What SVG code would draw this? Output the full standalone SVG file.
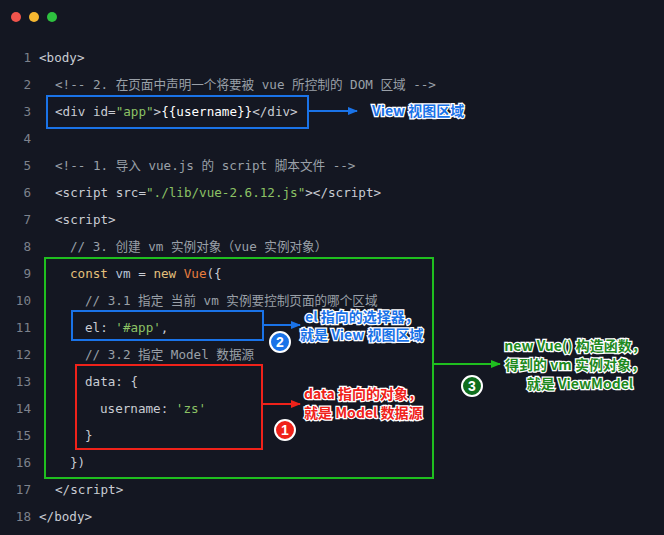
<svg xmlns="http://www.w3.org/2000/svg" width="664" height="535" viewBox="0 0 664 535">
<defs>
<style>
.c{font-family:"DejaVu Sans Mono","Noto Sans CJK SC",monospace;font-size:12.6px;fill:#c9ccd3}
.n{font-family:"DejaVu Sans Mono",monospace;font-size:12.6px;fill:#7d828c;text-anchor:end}
.cm{fill:#9aa0a8}.s{fill:#8cc265}.k{fill:#e5c07b}.v{fill:#e87d3e}.id{fill:#b7c3d8}
.lb{font-family:"Noto Sans CJK SC","Liberation Sans",sans-serif;font-size:14px;font-weight:bold;stroke:#fff;stroke-width:2.5px;paint-order:stroke}
.num{font-family:"Liberation Sans",sans-serif;font-size:14px;font-weight:bold;fill:#fff;text-anchor:middle}
</style>
<marker id="ab" viewBox="0 0 10 10" refX="9" refY="5" markerWidth="5" markerHeight="5" orient="auto"><path d="M0,1L10,5L0,9z" fill="#1a73e8"/></marker>
<marker id="ar" viewBox="0 0 10 10" refX="9" refY="5" markerWidth="5" markerHeight="5" orient="auto"><path d="M0,1L10,5L0,9z" fill="#f0221a"/></marker>
<marker id="ag" viewBox="0 0 10 10" refX="9" refY="5" markerWidth="5" markerHeight="5" orient="auto"><path d="M0,1L10,5L0,9z" fill="#1fbf1f"/></marker>
</defs>
<rect width="664" height="535" fill="#141722"/>
<circle cx="16" cy="17" r="5" fill="#f0544c"/><circle cx="34" cy="17" r="5" fill="#f5b731"/><circle cx="52" cy="17" r="5" fill="#2ec13f"/>
<g id="code">
<text class="n" x="31" y="62">1</text><text class="c" x="39" y="62">&lt;body&gt;</text>
<text class="n" x="31" y="89">2</text><text class="c cm" x="55" y="89">&lt;!-- 2. 在页面中声明一个将要被 vue 所控制的 DOM 区域 --&gt;</text>
<text class="n" x="31" y="116">3</text><text class="c" x="55" y="116">&lt;div id=<tspan class="s">"app"</tspan>&gt;<tspan fill="#fff">{{username}}</tspan>&lt;/div&gt;</text>
<text class="n" x="31" y="143">4</text>
<text class="n" x="31" y="170">5</text><text class="c cm" x="55" y="170">&lt;!-- 1. 导入 vue.js 的 script 脚本文件 --&gt;</text>
<text class="n" x="31" y="197">6</text><text class="c" x="55" y="197">&lt;script src=<tspan class="s">"./lib/vue-2.6.12.js"</tspan>&gt;&lt;/script&gt;</text>
<text class="n" x="31" y="224">7</text><text class="c" x="55" y="224">&lt;script&gt;</text>
<text class="n" x="31" y="251">8</text><text class="c cm" x="70" y="251">// 3. 创建 vm 实例对象（vue 实例对象）</text>
<text class="n" x="31" y="278">9</text><text class="c" x="70" y="278"><tspan class="k">const</tspan> <tspan class="id">vm</tspan> = <tspan class="k">new</tspan> <tspan class="v">Vue</tspan>({</text>
<text class="n" x="31" y="305">10</text><text class="c cm" x="85" y="305">// 3.1 指定 当前 vm 实例要控制页面的哪个区域</text>
<text class="n" x="31" y="332">11</text><text class="c" x="85" y="332">el: <tspan class="s">'#app'</tspan>,</text>
<text class="n" x="31" y="359">12</text><text class="c cm" x="85" y="359">// 3.2 指定 Model 数据源</text>
<text class="n" x="31" y="386">13</text><text class="c" x="85" y="386">data: {</text>
<text class="n" x="31" y="413">14</text><text class="c" x="100" y="413">username: <tspan class="s">'zs'</tspan></text>
<text class="n" x="31" y="440">15</text><text class="c" x="85" y="440">}</text>
<text class="n" x="31" y="467">16</text><text class="c" x="70" y="467">})</text>
<text class="n" x="31" y="494">17</text><text class="c" x="55" y="494">&lt;/script&gt;</text>
<text class="n" x="31" y="521">18</text><text class="c" x="39" y="521">&lt;/body&gt;</text>
</g>
<g id="view-box"><rect x="47" y="96" width="261" height="32" fill="none" stroke="#1a73e8" stroke-width="2"/>
<text class="lb" x="372" y="116" fill="#1a73e8">View 视图区域</text></g>
<g id="vm-box"><rect x="45" y="258" width="388" height="220" fill="none" stroke="#1fbf1f" stroke-width="2"/>
<text class="lb" x="575" y="351" fill="#1e8a1e" text-anchor="middle">new Vue() 构造函数，</text>
<text class="lb" x="575" y="370" fill="#1e8a1e" text-anchor="middle">得到的 vm 实例对象，</text>
<text class="lb" x="580" y="389" fill="#1e8a1e" text-anchor="middle">就是 ViewModel</text>
<circle cx="472" cy="386" r="10" fill="#0f6e1e" stroke="#fff" stroke-width="2"/><text class="num" x="472" y="391">3</text></g>
<g id="el-box"><rect x="72" y="311" width="191" height="29" fill="none" stroke="#1a73e8" stroke-width="2"/>
<text class="lb" x="305" y="322" fill="#1a73e8">el 指向的选择器，</text>
<text class="lb" x="300" y="340" fill="#1a73e8">就是 View 视图区域</text>
<circle cx="280" cy="342" r="10" fill="#1a73e8" stroke="#fff" stroke-width="2"/><text class="num" x="280" y="347">2</text></g>
<g id="data-box"><rect x="76" y="365" width="186" height="84" fill="none" stroke="#f0221a" stroke-width="2"/>
<text class="lb" x="304" y="399" fill="#f0221a">data 指向的对象，</text>
<text class="lb" x="304" y="418" fill="#f0221a">就是 Model 数据源</text>
<circle cx="285" cy="430" r="10" fill="#f0221a" stroke="#fff" stroke-width="2"/><text class="num" x="285" y="435">1</text></g>
<g id="connectors" stroke-width="2" fill="none">
<path d="M308,111H357" stroke="#1a73e8" marker-end="url(#ab)"/>
<path d="M263,325H300" stroke="#1a73e8" marker-end="url(#ab)"/>
<path d="M262,404H300" stroke="#f0221a" marker-end="url(#ar)"/>
<path d="M433,364H500" stroke="#1fbf1f" marker-end="url(#ag)"/>
</g>
</svg>
